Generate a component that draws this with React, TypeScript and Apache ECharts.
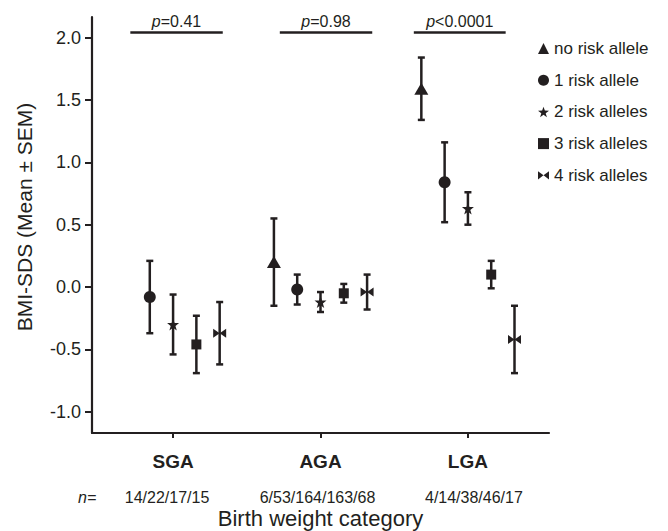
import React, { useEffect, useRef } from 'react';
import * as echarts from 'echarts';

const INK = '#231f20';
const FONT = '"Liberation Sans", Arial, Helvetica, sans-serif';

// Data
const categories = ['SGA', 'AGA', 'LGA'];
const categoryX = [1, 2, 3];
const nLabels = ['14/22/17/15', '6/53/164/163/68', '4/14/38/46/17'];
const alleleNames = ['no risk allele', '1 risk allele', '2 risk alleles', '3 risk alleles', '4 risk alleles'];

// mean BMI-SDS per category (SGA, AGA, LGA)
const meanNoRisk = [null, 0.20, 1.59];
const meanOne = [-0.08, -0.02, 0.84];
const meanTwo = [-0.30, -0.12, 0.63];
const meanThree = [-0.46, -0.05, 0.10];
const meanFour = [-0.37, -0.04, -0.42];

// SEM per category
const semNoRisk = [null, 0.35, 0.25];
const semOne = [0.29, 0.12, 0.32];
const semTwo = [0.24, 0.08, 0.13];
const semThree = [0.23, 0.075, 0.11];
const semFour = [0.25, 0.14, 0.27];

const yTicks = [-1.0, -0.5, 0.0, 0.5, 1.0, 1.5, 2.0];

const pLabels = ['=0.41', '=0.98', '<0.0001'];
const pStart = [0.71, 1.724, 2.633];
const pEnd = [1.337, 2.351, 3.256];
const pLevel = 2.04;

const means = [meanNoRisk, meanOne, meanTwo, meanThree, meanFour];
const sems = [semNoRisk, semOne, semTwo, semThree, semFour];

const STAR =
  'path://M10,0L12.35,6.76L19.51,6.91L13.8,11.24L15.88,18.09L10,14L4.12,18.09L6.2,11.24L0.49,6.91L7.65,6.76Z';
const BOWTIE = 'path://M0,0L6,4.5L0,9ZM12,0L6,4.5L12,9Z';
const symbols = ['triangle', 'circle', STAR, 'rect', BOWTIE];
const symbolSizes: any[] = [[14, 12], 12, 12, 10, [13, 9]];
const GROUP_STEP = 0.158;

export default function App() {
  const ref = useRef<HTMLDivElement>(null);

  useEffect(() => {
    if (!ref.current) return;
    const chart = echarts.init(ref.current, null, { renderer: 'svg' });

    const points = means.map((arr, a) =>
      arr
        .map((m, c) => (m === null ? null : [categoryX[c] + (a - 2) * GROUP_STEP, m, sems[a][c]]))
        .filter((d) => d !== null)
    );
    const errData: any[] = [];
    points.forEach((p) => p.forEach((d) => errData.push(d)));

    const scatterSeries: any[] = alleleNames.map((name, a) => ({
      name,
      type: 'scatter',
      data: points[a],
      symbol: symbols[a],
      symbolSize: symbolSizes[a],
      itemStyle: { color: INK, opacity: 1 },
      z: 5,
      ...(a === 0
        ? {
            markLine: {
              silent: true,
              symbol: ['none', 'none'],
              lineStyle: { color: INK, width: 2.6, type: 'solid' },
              label: {
                show: true,
                position: 'insideMiddleTop',
                distance: 3,
                color: INK,
                fontFamily: FONT,
                fontSize: 16,
                formatter: (p: any) => '{i|p}' + p.name,
                rich: { i: { fontStyle: 'italic', fontSize: 16, fontFamily: FONT, color: INK } },
              },
              emphasis: { disabled: true },
              data: pLabels.map((t, i) => [
                { name: t, coord: [pStart[i], pLevel] },
                { coord: [pEnd[i], pLevel] },
              ]),
            },
          }
        : {}),
    }));

    const option: any = {
      animation: false,
      textStyle: { fontFamily: FONT, color: INK },
      grid: { left: 92, top: 17, right: 119, bottom: 98, containLabel: false, outerBoundsMode: 'none' },
      legend: {
        orient: 'vertical',
        left: 538,
        top: 40,
        padding: 0,
        itemWidth: 11,
        itemHeight: 11,
        itemGap: 14.7,
        data: alleleNames,
        textStyle: { fontSize: 17, color: INK, fontFamily: FONT },
        selectedMode: false,
      },
      xAxis: {
        type: 'value',
        min: 0.45,
        max: 3.55,
        splitLine: { show: false },
        axisLine: { show: true, onZero: false, lineStyle: { color: INK, width: 2.2 } },
        axisTick: {
          show: true,
          customValues: categoryX,
          length: 5,
          lineStyle: { color: INK, width: 2 },
        },
        axisLabel: {
          customValues: categoryX,
          margin: 1,
          formatter: (v: number) => {
            const i = categoryX.indexOf(Math.round(v));
            return '{c|' + categories[i] + '}\n{n' + i + '|' + nLabels[i] + '}';
          },
          rich: {
            c: { fontSize: 19, fontWeight: 'bold', lineHeight: 54, color: INK, fontFamily: FONT },
            n0: { fontSize: 16, lineHeight: 18, color: INK, fontFamily: FONT, padding: [0, 12, 0, 0] },
            n1: { fontSize: 16, lineHeight: 18, color: INK, fontFamily: FONT, padding: [0, 6, 0, 0] },
            n2: { fontSize: 16, lineHeight: 18, color: INK, fontFamily: FONT, padding: [0, 0, 0, 12] },
          },
        },
        name: 'Birth weight category',
        nameLocation: 'middle',
        nameGap: 74,
        nameMoveOverlap: false,
        nameTextStyle: { fontSize: 22, color: INK, fontFamily: FONT },
      },
      yAxis: {
        type: 'value',
        min: -1.17,
        max: 2.165,
        splitLine: { show: false },
        axisLine: { show: true, onZero: false, lineStyle: { color: INK, width: 2.2 } },
        axisTick: {
          show: true,
          customValues: yTicks,
          length: 7,
          lineStyle: { color: INK, width: 2 },
        },
        axisLabel: {
          customValues: yTicks,
          margin: 11,
          fontSize: 18,
          color: INK,
          fontFamily: FONT,
          formatter: (v: number) => v.toFixed(1),
        },
        name: 'BMI-SDS (Mean \u00b1 SEM)',
        nameLocation: 'middle',
        nameGap: 57,
        nameMoveOverlap: false,
        nameTextStyle: { fontSize: 21, color: INK, fontFamily: FONT, padding: [0, 0, 0, 16] },
      },
      series: [
        {
          name: 'errorbars',
          type: 'custom',
          data: errData,
          encode: { x: 0, y: 1 },
          z: 3,
          silent: true,
          renderItem: (params: any, api: any) => {
            const x = api.value(0);
            const m = api.value(1);
            const s = api.value(2);
            const top = api.coord([x, m + s]);
            const bot = api.coord([x, m - s]);
            const cw = 3.5;
            const style = { stroke: INK, lineWidth: 2.5 };
            return {
              type: 'group',
              children: [
                { type: 'line', shape: { x1: top[0], y1: top[1], x2: bot[0], y2: bot[1] }, style },
                { type: 'line', shape: { x1: top[0] - cw, y1: top[1], x2: top[0] + cw, y2: top[1] }, style },
                { type: 'line', shape: { x1: bot[0] - cw, y1: bot[1], x2: bot[0] + cw, y2: bot[1] }, style },
              ],
            };
          },
        },
        ...scatterSeries,
      ],
      graphic: [
        {
          type: 'text',
          left: 78,
          top: 489,
          style: { text: 'n=', fontSize: 16, fontStyle: 'italic', fill: INK, fontFamily: FONT },
        },
      ],
    };

    chart.setOption(option);
    return () => chart.dispose();
  }, []);

  return (
    <div
      ref={ref}
      style={{ position: 'fixed', left: 0, top: 0, width: 668, height: 531, background: '#fff' }}
    />
  );
}
